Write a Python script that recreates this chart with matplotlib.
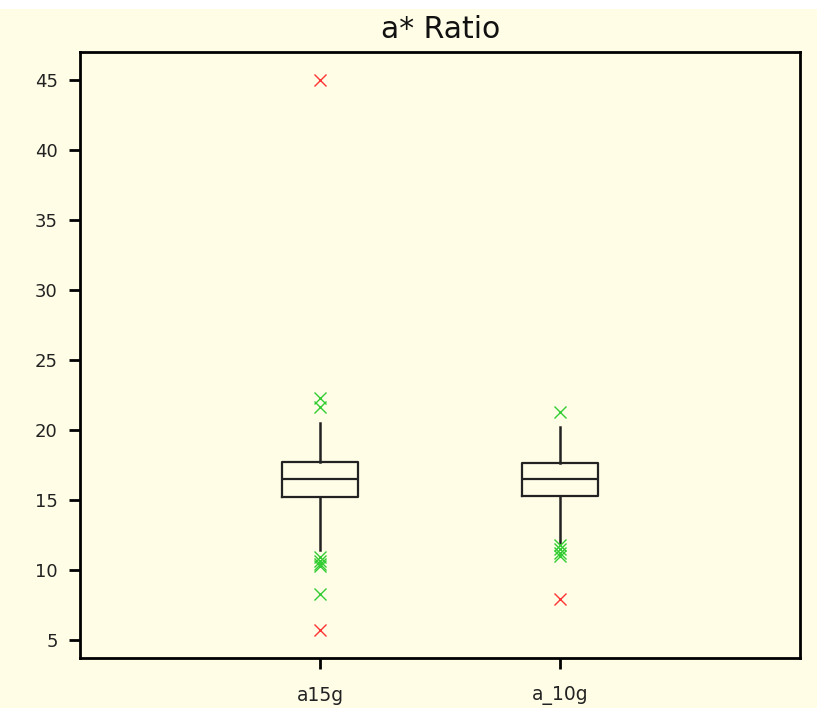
import matplotlib
matplotlib.use("Agg")
import matplotlib.pyplot as plt
from matplotlib.patches import Rectangle

# Data
categories = ["a15g", "a_10g"]
q1 = [15.2, 15.3]
median = [16.5, 16.5]
q3 = [17.7, 17.6]
whisker_low = [11.4, 11.9]
whisker_high = [20.5, 20.2]
green_outliers = [
    [22.3, 21.6, 10.9, 10.6, 10.4, 10.3, 8.3],
    [21.3, 11.8, 11.5, 11.2, 11.0],
]
red_outliers = [
    [45.0, 5.7],
    [7.9],
]
yticks = [5, 10, 15, 20, 25, 30, 35, 40, 45]

bg = "#fffde6"
fig = plt.figure(figsize=(8.17, 7.08), dpi=100, facecolor=bg)
fig.patches.append(Rectangle((0, 1 - 9/708), 1, 9/708, transform=fig.transFigure,
                             facecolor="white", edgecolor="none", zorder=-1))
ax = fig.add_axes([80/817, 50/708, 720/817, 606/708])
ax.set_facecolor(bg)

positions = list(range(1, len(categories) + 1))
stats = []
for i, c in enumerate(categories):
    stats.append(dict(label=c, q1=q1[i], med=median[i], q3=q3[i],
                      whislo=whisker_low[i], whishi=whisker_high[i], fliers=[]))
ax.bxp(stats, positions=positions, widths=0.32, showfliers=False, showcaps=False,
       boxprops=dict(color="#222222", linewidth=1.6),
       medianprops=dict(color="#222222", linewidth=1.6),
       whiskerprops=dict(color="#222222", linewidth=1.8))

for p, g, r in zip(positions, green_outliers, red_outliers):
    ax.plot([p] * len(g), g, linestyle="none", marker="x", markersize=9,
            markeredgewidth=1.0, color="#33cc33")
    ax.plot([p] * len(r), r, linestyle="none", marker="x", markersize=9,
            markeredgewidth=1.0, color="#ff3333")

ax.set_xlim(0, 3)
ax.set_ylim(3.7, 47)
ax.set_yticks(yticks)
ax.set_yticklabels([str(t) for t in yticks], fontfamily="DejaVu Sans", fontsize=13,
                   color="#222222")
ax.set_xticks(positions)
ax.set_xticklabels(categories, fontfamily="DejaVu Sans", fontsize=13.5, color="#222222")
ax.tick_params(axis="both", direction="out", length=8, width=2, color="black")
ax.tick_params(axis="x", pad=12)
ax.tick_params(axis="y", pad=8)
for s in ax.spines.values():
    s.set_linewidth(2)
    s.set_color("black")

fig.text(441/817, 1 - 30/708, "a* Ratio", ha="center", va="center",
         fontfamily="DejaVu Sans", fontsize=21.5, color="#111111")

fig.savefig("out.png", dpi=100, facecolor=bg)
